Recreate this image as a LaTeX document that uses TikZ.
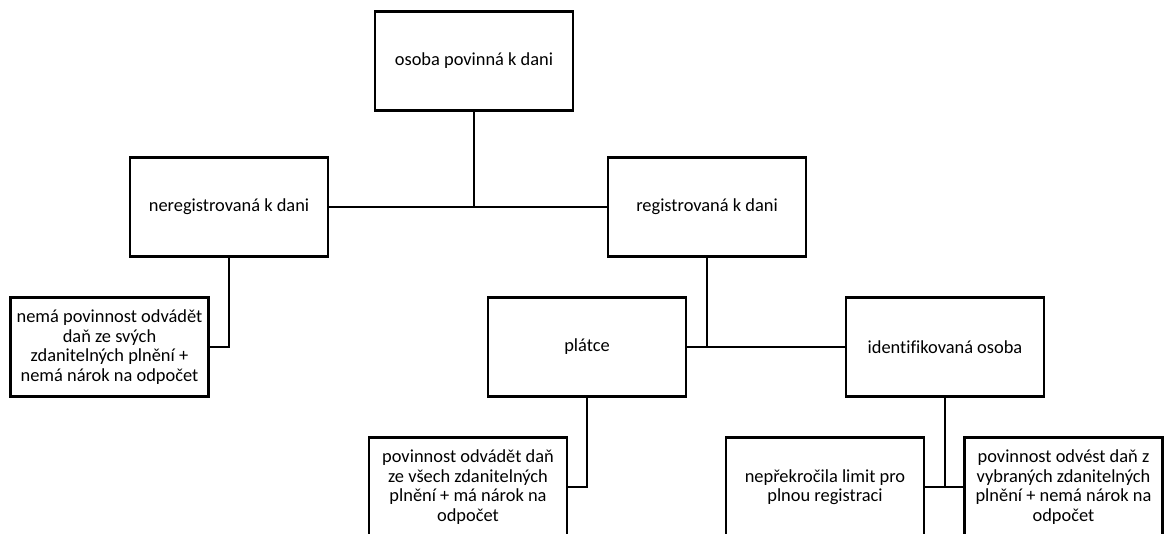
\documentclass[tikz,border=0pt]{standalone}
\usepackage{fontspec}
\setmainfont{Carlito}[Ligatures=NoCommon]
\usetikzlibrary{calc}

\begin{document}
\begin{tikzpicture}[x=0.75pt,y=-0.75pt,
	box/.style={draw,line width=1.8pt,minimum width=148.5pt,minimum height=74.25pt,
		inner sep=0pt,align=center,font=\fontsize{13.8pt}{14.6pt}\selectfont},
	link/.style={line width=1.8pt}]

		\clip (0,0) rectangle (1164,534);
		\useasboundingbox (0,0) rectangle (1164,534);

		\node [box] (osoba) at (474,61) {osoba povinná k dani};
		\node [box] (nereg) at (229,207) {neregistrovaná k dani};
		\node [box] (reg) at (707,207) {registrovaná k dani};

		\node [box] (nema) at (109.5,347) {nemá povinnost odvádět\\daň ze svých\\zdanitelných plnění +\\nemá nárok na odpočet};
		\node [box] (platce) at (587,347) {plátce};
		\node [box] (ident) at (945,347) {identifikovaná osoba};

		\node [box] (povinnost) at (468,487) {povinnost odvádět daň\\ze všech zdanitelných\\plnění + má nárok na\\odpočet};
		\node [box] (neprekr) at (825,487) {nepřekročila limit pro\\plnou registraci};
		\node [box] (odvest) at (1063.5,487) {povinnost odvést daň z\\vybraných zdanitelných\\plnění + nemá nárok na\\odpočet};

		\draw [link] (nereg.east) -- (reg.west);
		\draw [link] (osoba.south) -- (osoba.south |- nereg.east);

		\draw [link] (nereg.south) |- (nema.east);

		\draw [link] (platce.east) -- (ident.west);
		\draw [link] (reg.south) -- (reg.south |- platce.east);

		\draw [link] (platce.south) |- (povinnost.east);

		\draw [link] (neprekr.east) -- (odvest.west);
		\draw [link] (ident.south) -- (ident.south |- neprekr.east);
\end{tikzpicture}
\end{document}
